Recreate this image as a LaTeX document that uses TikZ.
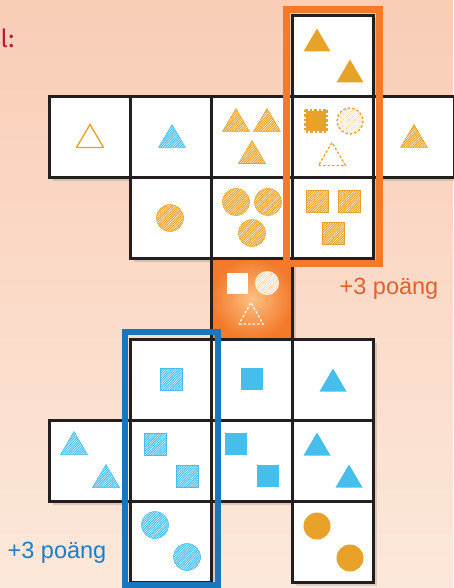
\documentclass[tikz,border=0pt]{standalone}
\usepackage{fontspec}
\setmainfont{Liberation Sans}
\newfontfamily\firafont{Fira Sans}
\usetikzlibrary{patterns.meta}
\definecolor{oc}{RGB}{232,162,42}
\definecolor{bc}{RGB}{70,190,236}
\definecolor{frO}{RGB}{243,122,43}
\definecolor{frB}{RGB}{22,119,190}
\definecolor{txO}{RGB}{222,98,42}
\definecolor{txB}{RGB}{30,125,195}
\definecolor{crim}{RGB}{185,28,58}
\definecolor{bgA}{RGB}{249,205,182}
\definecolor{bgM}{RGB}{252,225,209}
\definecolor{bgB}{RGB}{252,232,218}
\definecolor{ink}{RGB}{35,31,32}
\definecolor{ctrL}{RGB}{253,192,130}
\definecolor{ctrD}{RGB}{243,122,43}
\newcommand\shptri[3][]{\path[#1] (#2-13.5,#3+11.5) -- (#2+13.5,#3+11.5) -- (#2,#3-11.5) -- cycle;}
\newcommand\shpsq[3][]{\path[#1] (#2-11,#3-11) rectangle (#2+11,#3+11);}
\newcommand\shpcirc[3][]{\path[#1] (#2,#3) circle[radius=13.5];}
\newcommand\shpcell[2]{\fill[cellshadow] (#1+3,#2+3) rectangle ++(81,81);}
\newcommand\shpbox[2]{\path[cellbox] (#1,#2) rectangle ++(81,81);}
\tikzset{
  cellbox/.style={fill=white, draw=ink, line width=2.8pt},
  cellshadow/.style={fill=black, opacity=0.12},
  solidO/.style={fill=oc},
  solidB/.style={fill=bc},
  hatchO/.style={preaction={fill=oc}, pattern={Lines[angle=45,distance=1.7pt,line width=0.4pt]}, pattern color=white, draw=oc, line width=0.5pt},
  hatchB/.style={preaction={fill=bc}, pattern={Lines[angle=45,distance=1.7pt,line width=0.4pt]}, pattern color=white, draw=bc, line width=0.5pt},
  outlineO/.style={draw=oc, line width=1.4pt, line join=round},
  dashO/.style={draw=oc, line width=1.3pt, dash pattern=on 2.5pt off 2pt},
  dashW/.style={draw=white, line width=1.3pt, dash pattern=on 2.5pt off 2pt},
  lbl/.style={font=\fontsize{23.5}{26}\selectfont, inner sep=0pt}
}
\begin{document}
\begin{tikzpicture}[x=1pt,y=-1pt]
\useasboundingbox (0,0) rectangle (453,588);
% background
\shade[top color=bgA, middle color=bgM, bottom color=bgB] (0,0) rectangle (453,588);
% shadows
\foreach \cx/\cy in {292.5/15.5, 49.5/96.5, 130.5/96.5, 211.5/96.5, 292.5/96.5, 373.5/96.5,
  130.5/177.5, 211.5/177.5, 292.5/177.5, 211.5/258.5,
  130.5/339.5, 211.5/339.5, 292.5/339.5,
  49.5/420.5, 130.5/420.5, 211.5/420.5, 292.5/420.5,
  130.5/501.5, 292.5/501.5}{\shpcell{\cx}{\cy}}
% cells
\foreach \cx/\cy in {292.5/15.5, 49.5/96.5, 130.5/96.5, 211.5/96.5, 292.5/96.5, 373.5/96.5,
  130.5/177.5, 211.5/177.5, 292.5/177.5,
  130.5/339.5, 211.5/339.5, 292.5/339.5,
  49.5/420.5, 130.5/420.5, 211.5/420.5, 292.5/420.5,
  130.5/501.5, 292.5/501.5}{\shpbox{\cx}{\cy}}
% centre cell
\shade[inner color=ctrL, outer color=ctrD] (211.5,258.5) rectangle ++(81,81);
\draw[draw=ink, line width=2.8pt] (211.5,258.5) rectangle ++(81,81);
% top cell
\shptri[solidO]{317}{40}
\shptri[solidO]{350}{71}
% row 1
\shptri[outlineO]{90}{136}
\shptri[hatchB]{172}{136}
\shptri[hatchO]{236}{120}
\shptri[hatchO]{267}{120}
\shptri[hatchO]{252}{152}
\path[fill=oc] (306,111) rectangle (326,131);
\path[dashO] (305,110) rectangle (327,132);
\path[preaction={fill=white}, pattern={Lines[angle=45,distance=1.7pt,line width=0.4pt]}, pattern color=oc!50, dashO] (350,121) circle[radius=13];
\shptri[dashO]{332}{154}
\shptri[hatchO]{414}{136}
% row 2
\shpcirc[hatchO]{170}{218}
\shpcirc[hatchO]{236}{202}
\shpcirc[hatchO]{268}{202}
\shpcirc[hatchO]{252}{233}
\shpsq[hatchO]{317}{201}
\shpsq[hatchO]{349}{201}
\shpsq[hatchO]{333}{233}
% centre
\path[fill=white] (227,273) rectangle (247.5,293.5);
\path[preaction={fill=white}, pattern={Lines[angle=45,distance=1.7pt,line width=0.4pt]}, pattern color=ctrL] (267,283) circle[radius=12];
\path[dashW] (239,324) -- (263,324) -- (251,302.5) -- cycle;
% row 4
\shpsq[hatchB]{171}{379}
\shpsq[solidB]{252}{379}
\shptri[solidB]{333}{380}
% row 5
\shptri[hatchB]{74}{443}
\shptri[hatchB]{106}{476}
\shpsq[hatchB]{155}{444.5}
\shpsq[hatchB]{187}{476.5}
\shpsq[solidB]{236}{444}
\shpsq[solidB]{268}{476}
\shptri[solidB]{317}{444}
\shptri[solidB]{349}{476}
% row 6
\shpcirc[hatchB]{155}{525}
\shpcirc[hatchB]{187}{557}
\shpcirc[solidO]{317}{526}
\shpcirc[solidO]{350}{558}
% frames
\draw[frO, line width=7pt] (286.5,10) rectangle (379.5,263);
\draw[frB, line width=6pt] (124.5,332) rectangle (218,585);
% labels
\node[lbl, text=txO] (lo) at (389,289) {+3 poäng};
\node[lbl, text=txB] (lb) at (57,553) {+3 poäng};
\node[anchor=base west, inner sep=0pt, text=crim, font=\firafont\fontsize{25}{28}\selectfont] (ll) at (0.5,48) {l:};
\end{tikzpicture}
\end{document}
